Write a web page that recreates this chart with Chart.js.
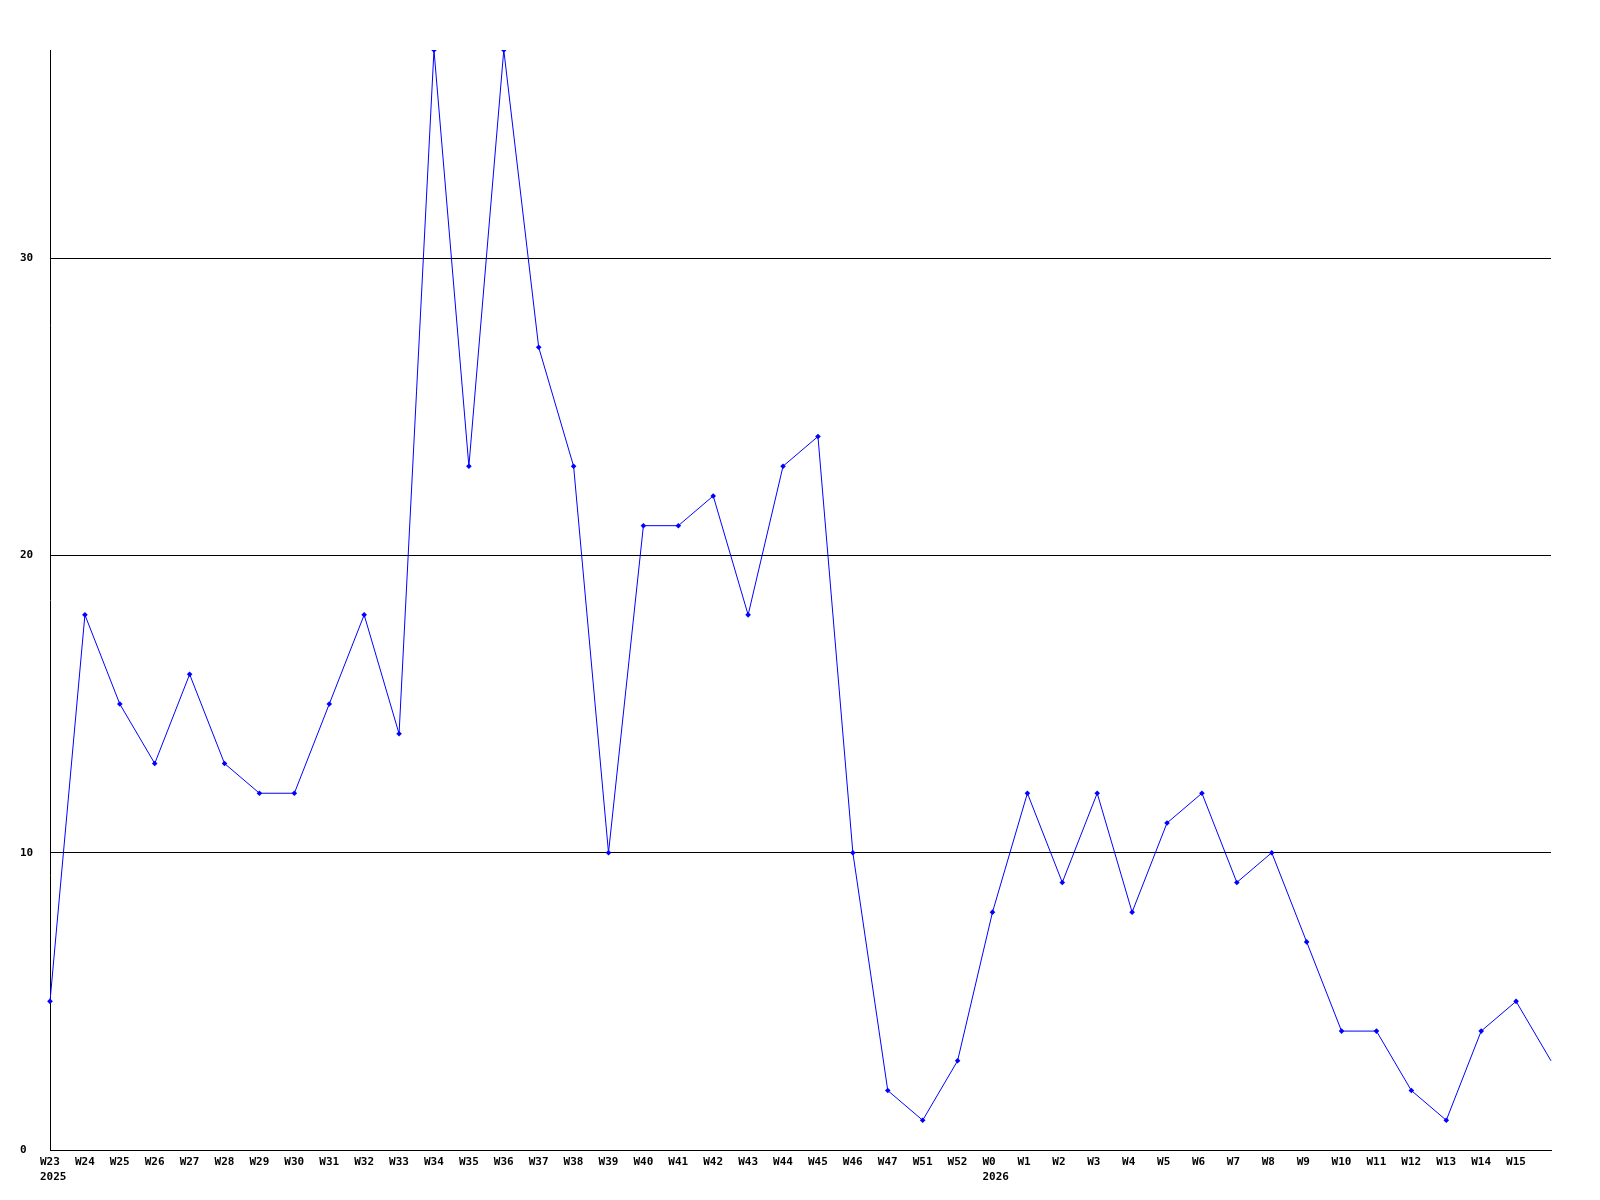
<!DOCTYPE html>
<html>
<head>
<meta charset="utf-8">
<title>Weekly chart</title>
<script src="https://cdn.jsdelivr.net/npm/chart.js@4/dist/chart.umd.min.js"></script>
<style>
  html, body { margin: 0; padding: 0; background: #fff; }
  #wrap { width: 1600px; height: 1200px; }
</style>
</head>
<body>
<div id="wrap"><canvas id="weekChart"></canvas></div>
<script>
// Weeks shown on the x axis (W48-W50 are missing in the source), last point unlabeled
const weeks = ["W23", "W24", "W25", "W26", "W27", "W28", "W29", "W30", "W31", "W32",
  "W33", "W34", "W35", "W36", "W37", "W38", "W39", "W40", "W41", "W42", "W43", "W44",
  "W45", "W46", "W47", "W51", "W52", "W0", "W1", "W2", "W3", "W4", "W5", "W6", "W7",
  "W8", "W9", "W10", "W11", "W12", "W13", "W14", "W15", ""];
// Year label under the first week of each year
const years = { "W23": "2025", "W0": "2026" };
const counts = [5, 18, 15, 13, 16, 13, 12, 12, 15, 18,
  14, 37, 23, 37, 27, 23, 10, 21, 21, 22, 18, 23,
  24, 10, 2, 1, 3, 8, 12, 9, 12, 8, 11, 12, 9,
  10, 7, 4, 4, 2, 1, 4, 5, 3];
const yTicks = [0, 10, 20, 30];
const yMax = 37;

const labels = weeks.map(w => years[w] ? [w, years[w]] : w);
const tickFont = { family: "'DejaVu Sans Mono', monospace", size: 11, weight: "bold", lineHeight: 1.35 };

const ctx = document.getElementById("weekChart");
const weekChart = new Chart(ctx, {
  type: "line",
  data: {
    labels: labels,
    datasets: [
      {
        data: counts,
        borderColor: "#0000ff",
        backgroundColor: "#0000ff",
        borderWidth: 1,
        tension: 0,
        pointStyle: "rectRot",
        pointRadius: c => (c.dataIndex === counts.length - 1 ? 0 : 2.8),
        pointBorderWidth: 0,
      },
    ],
  },
  options: {
    responsive: true,
    maintainAspectRatio: false,
    animation: false,
    layout: { padding: { top: 50, right: 49, left: 20, bottom: 0 } },
    plugins: {
      legend: { display: false },
      tooltip: { enabled: false },
    },
    scales: {
      x: {
        offset: false,
        grid: { color: "rgba(0,0,0,0)", drawTicks: false },
        border: { color: "#000", width: 1 },
        ticks: {
          color: "#000",
          font: tickFont,
          padding: 5,
          align: "start",
          labelOffset: -10,
          autoSkip: false,
          maxRotation: 0,
          minRotation: 0,
        },
        afterFit: s => { s.height = 50; },
      },
      y: {
        min: 0,
        max: yMax,
        afterBuildTicks: s => { s.ticks = yTicks.map(v => ({ value: v })); },
        grid: { color: "#000", lineWidth: 1, drawTicks: false },
        border: { color: "#000", width: 1 },
        ticks: {
          color: "#000",
          font: tickFont,
          crossAlign: "far",
          padding: 0,
        },
        afterFit: s => { s.width = 30; },
      },
    },
  },
});
</script>
</body>
</html>
